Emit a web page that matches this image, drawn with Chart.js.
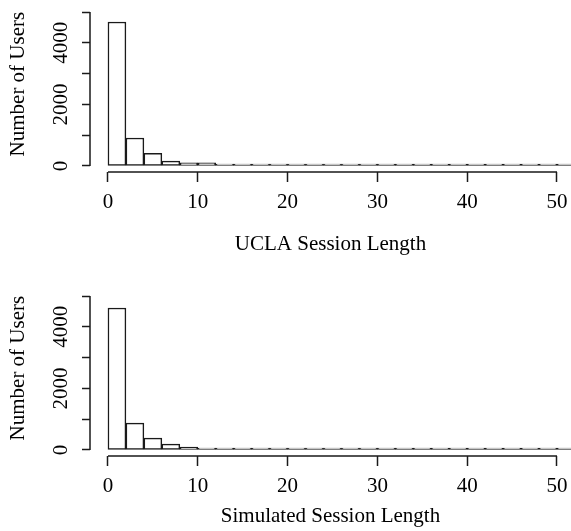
<!DOCTYPE html>
<html><head><meta charset="utf-8">
<script src="https://cdn.jsdelivr.net/npm/chart.js@4"></script>
<style>
html,body{margin:0;padding:0;background:#fff;}
#wrap{position:relative;width:571px;height:531px;overflow:hidden;}
.panel{position:absolute;left:0;width:571px;}
canvas{display:block;}
</style></head><body>
<div id="wrap">
<div class="panel" style="top:0;height:265px"><canvas id="c1" width="571" height="265"></canvas></div>
<div class="panel" style="top:265px;height:266px"><canvas id="c2" width="571" height="266"></canvas></div>
</div>
<script>
// histogram bins (width 2) and counts
const binStarts = [0,2,4,6,8,10,12,14,16,18,20,22,24,26,28,30,32,34,36,38,40,42,44,46,48,50];
const uclaCounts = [4675,910,410,160,105,105,42,40,15,15,15,15,15,15,3,3,3,3,3,3,3,3,3,3,3,3];
const simCounts  = [4610,870,385,190,97,50,50,25,25,2,2,2,2,2,2,2,2,2,2,2,2,2,2,2,2,2];
const xTicks = [0,10,20,30,40,50];
const yTicks = [0,1000,2000,3000,4000,5000];
const yLabelled = [0,2000,4000];
const xTitles = ['UCLA Session Length','Simulated Session Length'];
const yTitle = 'Number of Users';

const FONT = 'Liberation Serif, Times New Roman, serif';
const INK = '#1a1a1a';

const rAxes = {
  id: 'rAxes',
  afterDraw(chart) {
    const ctx = chart.ctx, xs = chart.scales.x, ys = chart.scales.y, a = chart.chartArea;
    ctx.save();
    ctx.strokeStyle = INK; ctx.lineWidth = 1.5;
    ctx.beginPath();
    const yl = Math.round(a.left);
    ctx.moveTo(yl, ys.getPixelForValue(yTicks[0]));
    ctx.lineTo(yl, ys.getPixelForValue(yTicks[yTicks.length - 1]));
    const xb = Math.round(a.bottom);
    ctx.moveTo(xs.getPixelForValue(xTicks[0]), xb);
    ctx.lineTo(xs.getPixelForValue(xTicks[xTicks.length - 1]), xb);
    ctx.stroke();
    ctx.restore();
  }
};

function makeChart(id, counts, xTitle, cfg) {
  return new Chart(document.getElementById(id), {
    type: 'bar',
    data: { datasets: [{
      data: binStarts.map((s, i) => ({ x: s + 1, y: counts[i] })),
      backgroundColor: '#ffffff', borderColor: INK, borderWidth: 1.5,
      borderSkipped: false, barPercentage: 1, categoryPercentage: 1, minBarLength: 2
    }]},
    options: {
      responsive: false, animation: false, events: [],
      layout: { padding: { top: cfg.top, bottom: cfg.bottom, left: 0, right: 0 } },
      plugins: { legend: { display: false }, tooltip: { enabled: false } },
      scales: {
        x: {
          type: 'linear', min: -2, max: 51.56, offset: false,
          afterBuildTicks: s => { s.ticks = xTicks.map(v => ({ value: v })); },
          afterFit: s => { s.height = cfg.xh; s.paddingLeft = 0; s.paddingRight = 0; },
          grid: { display: true, offset: false, drawOnChartArea: false, drawTicks: true, tickLength: 10, tickColor: INK, tickWidth: 1.5 },
          border: { display: false },
          ticks: { font: { family: FONT, size: 21 }, color: '#000', padding: 8, maxRotation: 0, minRotation: 0, autoSkip: false, callback: v => String(v) },
          title: { display: true, text: xTitle, font: { family: FONT, size: 21 }, color: '#000', padding: { top: 0, bottom: cfg.tpb } }
        },
        y: {
          type: 'linear', min: -195, max: 5000,
          afterBuildTicks: s => { s.ticks = yTicks.map(v => ({ value: v })); },
          afterFit: s => { s.width = 90; s.paddingTop = 0; s.paddingBottom = 0; },
          grid: { display: true, drawOnChartArea: false, drawTicks: true, tickLength: 8, tickColor: INK, tickWidth: 1.5 },
          border: { display: false },
          ticks: { font: { family: FONT, size: 21 }, color: '#000', padding: 0, minRotation: 90, maxRotation: 90, crossAlign: 'center', autoSkip: false,
                   callback: v => yLabelled.includes(v) ? String(v) : '' },
          title: { display: true, text: '\u00a0\u00a0\u00a0' + yTitle, font: { family: FONT, size: 21 }, color: '#000', padding: { top: 6, bottom: 0 } }
        }
      }
    },
    plugins: [rAxes]
  });
}

makeChart('c1', uclaCounts, xTitles[0], { top: 12, bottom: 4, tpb: 4, xh: 89 });
makeChart('c2', simCounts, xTitles[1], { top: 31, bottom: 0, tpb: 2, xh: 75 });
</script>
</body></html>
